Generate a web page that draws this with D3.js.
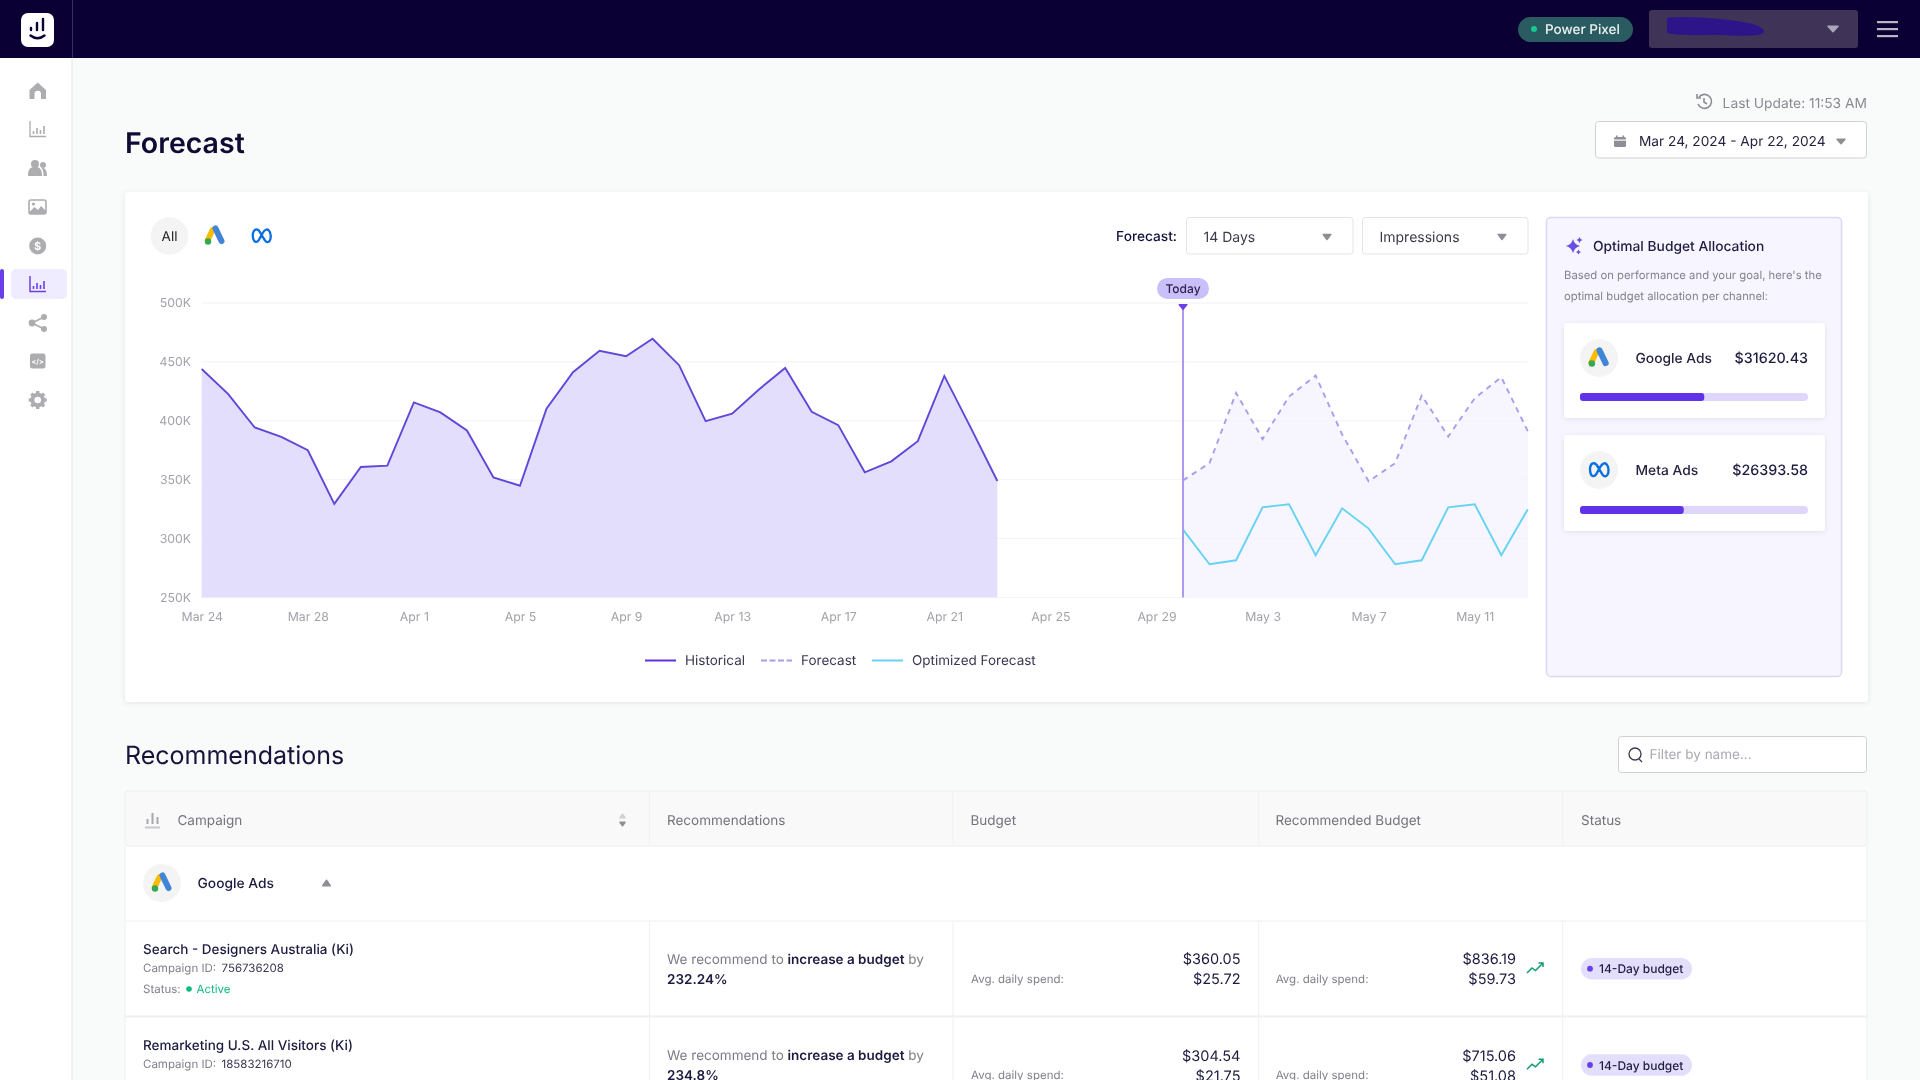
<!DOCTYPE html>
<html><head><meta charset="utf-8">
<script src="https://cdn.jsdelivr.net/npm/d3@7"></script>
<style>
html,body{margin:0;padding:0;width:1920px;height:1080px;overflow:hidden;background:#f9fafa}
svg{display:block;filter:blur(0.35px)}
text{font-family:Inter,"Noto Sans",sans-serif;text-rendering:geometricPrecision}
</style></head><body>
<script>
// ---------- data ----------
const dayLabels = ["Mar 24","Mar 25","Mar 26","Mar 27","Mar 28","Mar 29","Mar 30","Mar 31","Apr 1","Apr 2","Apr 3","Apr 4","Apr 5","Apr 6","Apr 7","Apr 8","Apr 9","Apr 10","Apr 11","Apr 12","Apr 13","Apr 14","Apr 15","Apr 16","Apr 17","Apr 18","Apr 19","Apr 20","Apr 21","Apr 22","Apr 23","Apr 24","Apr 25","Apr 26","Apr 27","Apr 28","Apr 29","Apr 30","May 1","May 2","May 3","May 4","May 5","May 6","May 7","May 8","May 9","May 10","May 11","May 12","May 13"];
const xTickLabels = ["Mar 24","Mar 28","Apr 1","Apr 5","Apr 9","Apr 13","Apr 17","Apr 21","Apr 25","Apr 29","May 3","May 7","May 11"];
const yTickValues = [250000,300000,350000,400000,450000,500000];
const historical = [444,422.7,394.3,386.4,375,329.5,360.8,361.9,415.6,407.1,391.8,352,344.9,410.2,441.2,459.4,454.8,469.6,447.2,399.7,406,426.4,444.9,407.7,396.3,356.3,365.6,382.7,438.1,394,348.9];
const forecastVals = [349.4,364.1,423.7,384.5,420.6,438.4,388.4,348.6,364.1,421.5,386.7,419.2,437,391.2];
const optimizedVals = [307.6,278.2,281.6,326.6,329.1,285.9,325.7,308.5,278.2,281.6,326.6,329.1,285.9,324.9];
const forecastDays = dayLabels.slice(37);
const todayLabel = "Apr 30";
const legendNames = ["Historical","Forecast","Optimized Forecast"];
const channelNames = ["Google Ads","Meta Ads"];
const channelBudgets = [31620.43,26393.58];
const channelShares = [0.545,0.455];
const tableHeaders = ["Campaign","Recommendations","Budget","Recommended Budget","Status"];
const campaignNames = ["Search - Designers Australia (Ki)","Remarketing U.S. All Visitors (Ki)"];
const campaignIds = ["756736208","18583216710"];
const recPercents = ["232.24%","234.8%"];
const budgets = ["$360.05","$304.54"];
const dailySpend = ["$25.72","$21.75"];
const recBudgets = ["$836.19","$715.06"];
const recDaily = ["$59.73","$51.08"];

// ---------- helpers ----------
const svg = d3.select("body").append("svg").attr("width",1920).attr("height",1080).attr("viewBox","0 0 1920 1080");
const defs = svg.append("defs");
const f = defs.append("filter").attr("id","sh").attr("x","-5%").attr("y","-5%").attr("width","110%").attr("height","115%");
f.append("feDropShadow").attr("dx",0).attr("dy",1).attr("stdDeviation",2.5).attr("flood-color","#000").attr("flood-opacity",0.09);
const DARK="#12103a", GREY="#8d8d96", PUR="#6a3fe8";
function rect(g,x,y,w,h,fill,o={}){const r=g.append("rect").attr("x",x).attr("y",y).attr("width",w).attr("height",h).attr("fill",fill).attr("rx",o.r||0);
  if(o.stroke)r.attr("stroke",o.stroke).attr("stroke-width",o.sw||1); if(o.filter)r.attr("filter",o.filter); return r;}
function txt(g,s,x,y,o={}){const t=g.append("text").attr("x",x).attr("y",y).attr("dy","0.36em").text(s)
  .attr("font-size",o.size||13).attr("fill",o.fill||DARK).attr("font-weight",o.w||400).attr("text-anchor",o.a||"start");return t;}
function tri(g,cx,cy,w,h,fill,up){g.append("path").attr("fill",fill).attr("stroke",fill).attr("stroke-width",1.5).attr("stroke-linejoin","round")
  .attr("d",up?`M${cx-w/2},${cy+h/2}L${cx+w/2},${cy+h/2}L${cx},${cy-h/2}Z`:`M${cx-w/2},${cy-h/2}L${cx+w/2},${cy-h/2}L${cx},${cy+h/2}Z`);}
function googleIcon(g,cx,cy,s){const k=g.append("g").attr("transform",`translate(${cx},${cy}) scale(${s})`);
  k.append("path").attr("d","M-2.5,-6 L-7.5,4.5").attr("stroke","#fbbc04").attr("stroke-width",5.6).attr("stroke-linecap","round").attr("fill","none");
  k.append("path").attr("d","M0.5,-7.5 L6.5,5").attr("stroke","#4285d8").attr("stroke-width",6).attr("stroke-linecap","round").attr("fill","none");
  k.append("circle").attr("cx",-7).attr("cy",5.5).attr("r",3.2).attr("fill","#34a853");}
function metaIcon(g,cx,cy,s){const k=g.append("g").attr("transform",`translate(${cx},${cy}) scale(${s})`);
  k.append("path").attr("fill","none").attr("stroke","#0a6fe0").attr("stroke-width",2.5).attr("stroke-linecap","round")
   .attr("d","M-1,-3 C-3,-7 -5,-7.5 -6.5,-7 C-9.5,-6 -10,-1 -9,3 C-8,7 -5,7.5 -3,4.5 L1.5,-3.5 C3.5,-7 6,-8 8,-6 C10.5,-3.5 10.5,2.5 9,5 C7.5,7.5 5,7 3.5,4.5 L-1,-3");}

// ---------- page frame ----------
rect(svg,0,58,72,1022,"#ffffff");
svg.append("line").attr("x1",72).attr("x2",72).attr("y1",58).attr("y2",1080).attr("stroke","#e6e7ea");
rect(svg,0,0,1920,58,"#0b0033");
svg.append("line").attr("x1",72.5).attr("x2",72.5).attr("y1",0).attr("y2",58).attr("stroke","#37305c");
// logo
rect(svg,21,13,33,34,"#ffffff",{r:7});
const logo=svg.append("g").attr("stroke","#0b0033").attr("stroke-linecap","round").attr("fill","none").attr("stroke-width",2.4);
logo.append("path").attr("d","M31,30v-2M37,30v-7M43,30v-11");
logo.append("path").attr("d","M30.5,35.5 Q37.5,41 44.5,35.5");
// header right
rect(svg,1518,17,115,25,"#2a5b60",{r:12.5});
svg.append("circle").attr("cx",1534).attr("cy",29).attr("r",3).attr("fill","#16c98d");
txt(svg,"Power Pixel",1545,29,{size:13.5,fill:"#eef2f2",w:500});
rect(svg,1649,10,209,38,"#3f3358",{r:3});
svg.append("path").attr("d","M1667,18 C1680,16 1700,17 1720,19 C1740,21 1762,24 1764,31 C1765,37 1740,36 1720,35 C1700,35 1680,36 1667,33 Z").attr("fill","#2d1488");
tri(svg,1833,29,10,5.5,"#aca6ba");
[22,29,36].forEach(y=>rect(svg,1877,y-1,21,2.2,"#b9b6c6"));
// sidebar
const sideY=[91,129,168,207,246,284,323,361,400], IC="#adadb0";
rect(svg,0,269,4,30,PUR,{r:2});
rect(svg,11,269,56,30,"#f0ecff",{r:5});
const sg=svg.append("g");
sg.append("path").attr("fill",IC).attr("d",`M37.7,${sideY[0]-8.5}L46,${sideY[0]-1}V${sideY[0]+8}H41V${sideY[0]+3}a3,3 0 0 0-6.5,0V${sideY[0]+8}H29.5V${sideY[0]-1}Z`);
function bars(cy,c,sw){const b=sg.append("g").attr("stroke",c).attr("fill","none");
  b.append("path").attr("stroke-width",sw).attr("d",`M30,${cy-8}V${cy+7.5}H46`);
  b.append("path").attr("stroke-width",1.6).attr("d",`M33.5,${cy+5}v-3M37,${cy+5}v-6M40.5,${cy+5}v-4M44,${cy+5}v-8`);}
bars(sideY[1],IC,1.3);bars(sideY[5],PUR,1.5);
const cyU=sideY[2];
sg.append("circle").attr("cx",35).attr("cy",cyU-4).attr("r",4).attr("fill",IC);
sg.append("circle").attr("cx",43).attr("cy",cyU-3).attr("r",3).attr("fill",IC);
sg.append("path").attr("fill",IC).attr("d",`M28,${cyU+8}c0,-8 3,-9 7,-9s7,1 7,9ZM43.5,${cyU+8}c0,-4 -0.5,-6 -2,-8 3,-0.5 5.5,1 5.5,8Z`);
const cyI=sideY[3];
rect(sg,29,cyI-7,17,14,"#fff",{r:2,stroke:IC,sw:1.6});
sg.append("path").attr("fill",IC).attr("d",`M29.5,${cyI+5}l5,-5 3.5,3 3,-4 5,5v3h-16.5Z`);
sg.append("circle").attr("cx",33.5).attr("cy",cyI-3).attr("r",1.6).attr("fill",IC);
sg.append("circle").attr("cx",37.7).attr("cy",sideY[4]).attr("r",8.5).attr("fill",IC);
txt(sg,"$",37.7,sideY[4],{size:11,fill:"#fff",w:700,a:"middle"});
const cyS=sideY[6];
sg.append("path").attr("stroke",IC).attr("stroke-width",1.8).attr("fill","none").attr("d",`M44,${cyS-6}L32,${cyS}L44,${cyS+6}`);
[[44,-6,3],[32,0,3.4],[44,6,3]].forEach(d=>sg.append("circle").attr("cx",d[0]).attr("cy",cyS+d[1]).attr("r",d[2]).attr("fill",IC));
rect(sg,30,sideY[7]-7.5,15.5,15,IC,{r:2.5});
txt(sg,"</>",37.7,sideY[7],{size:7,fill:"#fff",w:700,a:"middle"});
const cyG=sideY[8];
sg.append("circle").attr("cx",37.7).attr("cy",cyG).attr("r",5.3).attr("fill","none").attr("stroke",IC).attr("stroke-width",4);
d3.range(8).forEach(i=>sg.append("rect").attr("x",36).attr("y",cyG-9).attr("width",3.4).attr("height",3.6).attr("fill",IC).attr("transform",`rotate(${i*45} 37.7 ${cyG})`));

// title row
txt(svg,"Forecast",125,142.5,{size:28.5,w:600,fill:"#0f0b34"});
const hist=svg.append("g").attr("stroke",GREY).attr("fill","none").attr("stroke-width",1.6);
hist.append("path").attr("d","M1699,97 A7,7 0 1 1 1698,104");hist.append("path").attr("d","M1697,94v4h4M1704,98v4l3,2");
txt(svg,"Last Update: 11:53 AM",1867,103,{size:13.8,fill:"#8b8b93",a:"end"});
rect(svg,1595.5,121.5,271,36.5,"#ffffff",{r:3,stroke:"#cfd0d4"});
rect(svg,1614,137,12,10,"#8e8e96",{r:1.5});rect(svg,1614,139.5,12,1.2,"#fff");
rect(svg,1616,135.5,1.6,3,"#8e8e96");rect(svg,1622.5,135.5,1.6,3,"#8e8e96");
txt(svg,"Mar 24, 2024 - Apr 22, 2024",1639,141,{size:13.7,fill:"#25233f"});
tri(svg,1841,141.5,8,4.5,"#8e8e96");

// main card
rect(svg,125,192,1743,510,"#ffffff",{r:4,filter:"url(#sh)"});
svg.append("circle").attr("cx",169.5).attr("cy",236).attr("r",18.8).attr("fill","#f4f4f5");
txt(svg,"All",169.5,236.5,{size:13.5,a:"middle",fill:"#1c1c1f"});
googleIcon(svg,215,236,1);
metaIcon(svg,261.5,236,0.92);
txt(svg,"Forecast:",1177,236.5,{size:13.7,a:"end",w:500});
[[1186.5,166.5,"14 Days"],[1362.5,165.5,"Impressions"]].forEach(d=>{
  rect(svg,d[0],217.5,d[1],36.5,"#ffffff",{r:3,stroke:"#e4e4e8"});
  txt(svg,d[2],d[0]+17,237,{size:14,fill:"#3a3a4a"});
  tri(svg,d[0]+d[1]-26,237,7.5,5,"#8e8e96");
});

// ---------- chart ----------
const x=d3.scalePoint().domain(dayLabels).range([201.7,1527.8]);
const y=d3.scaleLinear().domain([250000,500000]).range([597.5,303]);
const BASE=250000, toV=v=>v*1000;
const chart=svg.append("g");
chart.append("g").selectAll("line").data(yTickValues).join("line")
  .attr("x1",201.7).attr("x2",x("May 13")).attr("y1",d=>y(d)).attr("y2",d=>y(d)).attr("stroke","#f6f6f8");
const histData=historical.map((v,i)=>({d:dayLabels[i],v:toV(v)}));
const fcData=forecastVals.map((v,i)=>({d:forecastDays[i],v:toV(v)}));
const opData=optimizedVals.map((v,i)=>({d:forecastDays[i],v:toV(v)}));
const area=d3.area().x(d=>x(d.d)).y0(y(BASE)).y1(d=>y(d.v));
const line=d3.line().x(d=>x(d.d)).y(d=>y(d.v));
chart.append("path").datum(histData).attr("d",area).attr("fill","#e4defd");
chart.append("path").datum(fcData).attr("d",area).attr("fill","#f7f5fe");
chart.append("g").selectAll("line").data(yTickValues.slice(1)).join("line")
  .attr("x1",201.7).attr("x2",x("May 13")).attr("y1",d=>y(d)).attr("y2",d=>y(d)).attr("stroke","#7f6cf0").attr("stroke-opacity",0.025);
chart.append("path").datum(histData).attr("d",line).attr("fill","none").attr("stroke","#6146d8").attr("stroke-width",1.9);
chart.append("path").datum(fcData).attr("d",line).attr("fill","none").attr("stroke","#ad9bee").attr("stroke-width",1.9).attr("stroke-dasharray","5.5 5");
chart.append("path").datum(opData).attr("d",line).attr("fill","none").attr("stroke","#66d3f2").attr("stroke-width",1.9);
// today marker
chart.append("line").attr("x1",x(todayLabel)).attr("x2",x(todayLabel)).attr("y1",306).attr("y2",y(BASE)).attr("stroke","#ab99ee").attr("stroke-width",2);
tri(chart,x(todayLabel),307,7.5,4.5,"#6a3fe8");
rect(chart,x(todayLabel)-26,278,52,21,"#cbbffa",{r:10.5});
txt(chart,"Today",x(todayLabel),288.5,{size:12,a:"middle",w:500,fill:"#2b2550"});
// axes
const yAxis=chart.append("g").attr("transform","translate(191,0)").call(d3.axisLeft(y).tickValues(yTickValues).tickSize(0).tickPadding(0).tickFormat(d=>d/1000+"K"));
const xAxis=chart.append("g").attr("transform",`translate(0,${y(BASE)})`).call(d3.axisBottom(x).tickValues(xTickLabels).tickSize(0).tickPadding(15));
[yAxis,xAxis].forEach(a=>{a.select(".domain").remove();a.attr("font-family",null).attr("font-size",null);
  a.selectAll("text").attr("font-size",12.3).attr("fill","#a2a2a9");});
// legend
const legX=[645,761,872], legT=[685,801,912], legC=["#6030d8","#ad9bee","#66d3f2"];
legendNames.forEach((n,i)=>{
  const l=svg.append("line").attr("x1",legX[i]).attr("x2",legX[i]+31).attr("y1",660.5).attr("y2",660.5).attr("stroke",legC[i]).attr("stroke-width",2);
  if(i===1)l.attr("stroke-dasharray","6 2.5");
  txt(svg,n,legT[i],660.5,{size:13.5,fill:"#3a3850"});
});

// side panel
rect(svg,1546.5,217.5,295,459,"#f7f5ff",{r:4,stroke:"#dcd8f3",sw:1.5});
const spark=(cx,cy,r)=>svg.append("path").attr("fill","#6a4fe6").attr("d",`M${cx},${cy-r}Q${cx+r*.2},${cy-r*.2} ${cx+r},${cy}Q${cx+r*.2},${cy+r*.2} ${cx},${cy+r}Q${cx-r*.2},${cy+r*.2} ${cx-r},${cy}Q${cx-r*.2},${cy-r*.2} ${cx},${cy-r}Z`);
spark(1573,246,7);spark(1579.5,240,3);spark(1578.5,252,2.6);
txt(svg,"Optimal Budget Allocation",1593,246,{size:13.8,w:500,fill:"#1d1b3f"});
txt(svg,"Based on performance and your goal, here's the",1564,275,{size:11.3,fill:"#83838d"});
txt(svg,"optimal budget allocation per channel:",1564,296,{size:11.3,fill:"#83838d"});
const barScale=d3.scaleLinear().domain([0,1]).range([1580,1808]);
const cardY=[323,435], cardH=[95,96], barY=[393,506], iconY=[358,470];
channelNames.forEach((n,i)=>{
  rect(svg,1564,cardY[i],261,cardH[i],"#ffffff",{r:3,filter:"url(#sh)"});
  svg.append("circle").attr("cx",1599).attr("cy",iconY[i]).attr("r",19).attr("fill","#f4f4f5");
  if(i===0)googleIcon(svg,1599,iconY[i],1.02);else metaIcon(svg,1599,iconY[i],0.95);
  txt(svg,n,1635.5,iconY[i],{size:13.8,fill:"#25233f",w:500});
  txt(svg,"$"+channelBudgets[i].toFixed(2),1808,iconY[i],{size:14.3,a:"end",fill:"#1d1b3f",w:500});
  rect(svg,barScale(0),barY[i],barScale(1)-barScale(0),8,"#ded7fb",{r:4});
  rect(svg,barScale(0),barY[i],barScale(channelShares[i])-barScale(0),8,"#6033e8",{r:0}).attr("rx",3);
});

// recommendations header
txt(svg,"Recommendations",125,754.5,{size:25,fill:"#16143a"});
rect(svg,1618.5,736.5,248,36,"#ffffff",{r:3,stroke:"#cfd0d4"});
svg.append("circle").attr("cx",1635).attr("cy",754).attr("r",6).attr("fill","none").attr("stroke","#3a3a4a").attr("stroke-width",1.3);
svg.append("path").attr("d","M1639,759l3,3").attr("stroke","#3a3a4a").attr("stroke-width",1.3);
txt(svg,"Filter by name...",1649.5,754.5,{size:13.5,fill:"#a9a9b0"});

// table
const colX=[125,649.5,953,1258.7,1562.7,1867], headX=[177.5,667,970.5,1275.5,1581];
rect(svg,125,791,1742,289,"#ffffff");
rect(svg,125,791,1742,55,"#f9f9fa",{r:3,stroke:"#eeeef0"});
tableHeaders.forEach((h,i)=>txt(svg,h,headX[i],820,{size:13.5,fill:"#73737d"}));
const hb=svg.append("g").attr("stroke","#a7a7ae").attr("stroke-width",2);
hb.append("path").attr("d","M147.5,824v-5M152.5,824v-11M157.5,824v-7");
hb.append("path").attr("d","M145,827.5h15").attr("stroke","#c8c8cc");
tri(svg,622.5,816,5,3.5,"#cfcfd4",true);tri(svg,622.5,824,5,3.5,"#8e8e96");
colX.slice(1,5).forEach(cx=>svg.append("line").attr("x1",cx).attr("x2",cx).attr("y1",791).attr("y2",846).attr("stroke","#f1f1f3"));
svg.append("circle").attr("cx",162).attr("cy",883).attr("r",19).attr("fill","#f4f4f5");
googleIcon(svg,162,883,1);
txt(svg,"Google Ads",197.5,883,{size:13.8,w:500,fill:"#1d1b3f"});
tri(svg,326.5,883,7.5,5.5,"#8e8e96",true);
svg.append("line").attr("x1",125).attr("x2",1867).attr("y1",921).attr("y2",921).attr("stroke","#f0f0f2");
svg.append("line").attr("x1",125).attr("x2",125).attr("y1",846).attr("y2",1080).attr("stroke","#f0f0f2");
svg.append("line").attr("x1",1867).attr("x2",1867).attr("y1",846).attr("y2",1080).attr("stroke","#f0f0f2");
const rowTop=[921,1017.3];
colX.slice(1,5).forEach(cx=>svg.append("line").attr("x1",cx).attr("x2",cx).attr("y1",921).attr("y2",1080).attr("stroke","#efeff1"));
svg.append("line").attr("x1",125).attr("x2",1867).attr("y1",1016.5).attr("y2",1016.5).attr("stroke","#f0f0f2").attr("stroke-width",2);
campaignNames.forEach((n,i)=>{
  const t=rowTop[i];
  txt(svg,n,143,t+28,{size:13.5,fill:"#1d1b3f",w:500});
  txt(svg,"Campaign ID:",143,t+47,{size:11.5,fill:"#80808a"});
  txt(svg,campaignIds[i],221.5,t+47,{size:11.5,fill:"#3a3850"});
  if(i===0){txt(svg,"Status:",143,t+68,{size:11.5,fill:"#80808a"});
    svg.append("circle").attr("cx",189).attr("cy",t+68).attr("r",2.8).attr("fill","#10b981");
    txt(svg,"Active",196.5,t+68,{size:11.5,fill:"#10b981"});}
  const rt=txt(svg,"We recommend to ",667,t+38,{size:13.5,fill:"#7b7b85"});
  rt.append("tspan").text("increase a budget").attr("font-weight",600).attr("fill","#1d1b3f");
  rt.append("tspan").text(" by");
  txt(svg,recPercents[i],667,t+58,{size:13.5,w:600,fill:"#1d1b3f"});
  txt(svg,budgets[i],1240.5,t+38,{size:14.5,a:"end",fill:"#1d1b3f"});
  txt(svg,dailySpend[i],1240.5,t+58,{size:14.5,a:"end",fill:"#1d1b3f"});
  txt(svg,"Avg. daily spend:",971,t+58,{size:11.5,fill:"#80808a"});
  txt(svg,recBudgets[i],1516,t+38,{size:14.5,a:"end",fill:"#1d1b3f"});
  txt(svg,recDaily[i],1516,t+58,{size:14.5,a:"end",fill:"#1d1b3f"});
  txt(svg,"Avg. daily spend:",1275.7,t+58,{size:11.5,fill:"#80808a"});
  svg.append("path").attr("fill","none").attr("stroke","#119d72").attr("stroke-width",1.5).attr("d",`M1527,${t+52}l5,-5 3.5,2.5 7,-7M1538.5,${t+42}h4.5v4`);
  rect(svg,1581,t+37,111,21.5,"#e4defd",{r:10.7});
  svg.append("circle").attr("cx",1590).attr("cy",t+47.7).attr("r",2.9).attr("fill","#6a3fe8");
  txt(svg,"14-Day budget",1599,t+48,{size:12,fill:"#1d1b3f",w:500});
});
</script>
</body></html>
